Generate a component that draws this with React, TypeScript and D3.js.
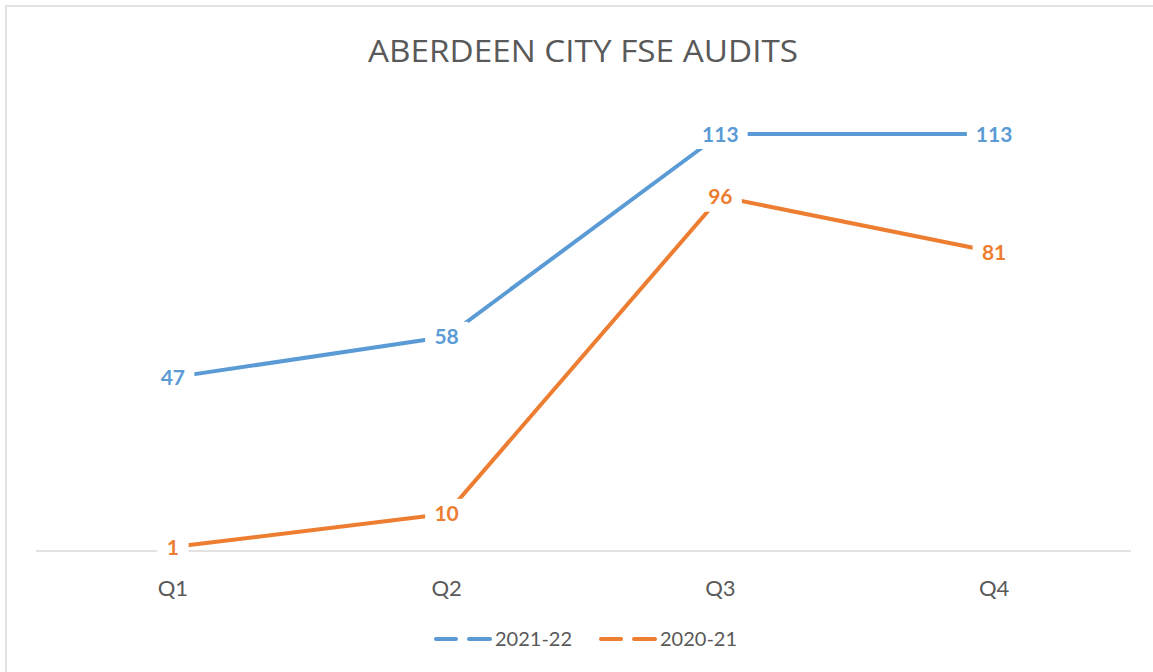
import React from "react";
import * as d3 from "d3";

const categories = ["Q1", "Q2", "Q3", "Q4"];
const series2122 = [47, 58, 113, 113];
const series2021 = [1, 10, 96, 81];
const seriesNames = ["2021-22", "2020-21"];
const seriesColors = ["#5B9BD5", "#ED7D31"];
const title = "ABERDEEN CITY FSE AUDITS";

const W = 1153;
const H = 672;

export default function App() {
  const x = d3.scaleBand<string>().domain(categories).range([36, 1131]).padding(0);
  const y = d3.scaleLinear().domain([0, 120]).range([550.7, 108.2]);
  const cx = (c: string) => (x(c) ?? 0) + x.bandwidth() / 2;
  const line = d3
    .line<number>()
    .x((_, i) => cx(categories[i]))
    .y((d) => y(d));
  const all = [series2122, series2021];
  const labelFont = "'Lato', 'Open Sans', sans-serif";
  const textW = (v: number) => String(v).length * 11.5;

  return (
    <svg
      width={W}
      height={H}
      style={{ position: "absolute", left: 0, top: 0, background: "#fff" }}
    >
      <rect x={0} y={0} width={W} height={H} fill="#fff" />
      <path d={`M6,${H} V6 H${W}`} fill="none" stroke="#d9d9d9" strokeWidth={1.5} />
      <text
        x={583}
        y={62}
        textAnchor="middle"
        fontFamily="'Open Sans', sans-serif"
        fontSize={31}
        fill="#595959"
        textLength={430}
        lengthAdjust="spacingAndGlyphs"
      >
        {title}
      </text>
      <line x1={36} x2={1131} y1={551} y2={551} stroke="#d9d9d9" strokeWidth={1.5} />
      {categories.map((c) => (
        <text
          key={c}
          x={cx(c)}
          y={596}
          textAnchor="middle"
          fontFamily={labelFont}
          fontSize={22}
          fill="#595959"
        >
          {c}
        </text>
      ))}
      {all.map((s, si) => (
        <path
          key={si}
          d={line(s) ?? ""}
          fill="none"
          stroke={seriesColors[si]}
          strokeWidth={4}
          strokeLinecap="round"
          strokeLinejoin="round"
        />
      ))}
      {all.map((s, si) =>
        s.map((v, i) => {
          const px = cx(categories[i]);
          const py = y(v);
          const tw = textW(v);
          return (
            <g key={`${si}-${i}`}>
              <rect x={px - tw / 2 - 10} y={py - 15} width={tw + 20} height={30} fill="#fff" />
              <text
                x={px}
                y={py + 7.5}
                textAnchor="middle"
                fontFamily={labelFont}
                fontWeight={700}
                fontSize={21}
                fill={seriesColors[si]}
              >
                {v}
              </text>
            </g>
          );
        })
      )}
      {seriesNames.map((n, si) => {
        const lx = si === 0 ? 436 : 601;
        return (
          <g key={n}>
            <line x1={lx} x2={lx + 20} y1={639} y2={639} stroke={seriesColors[si]} strokeWidth={4} strokeLinecap="round" />
            <line x1={lx + 33} x2={lx + 54} y1={639} y2={639} stroke={seriesColors[si]} strokeWidth={4} strokeLinecap="round" />
            <text x={lx + 59} y={646} fontFamily={labelFont} fontSize={20} fill="#595959">
              {n}
            </text>
          </g>
        );
      })}
    </svg>
  );
}
